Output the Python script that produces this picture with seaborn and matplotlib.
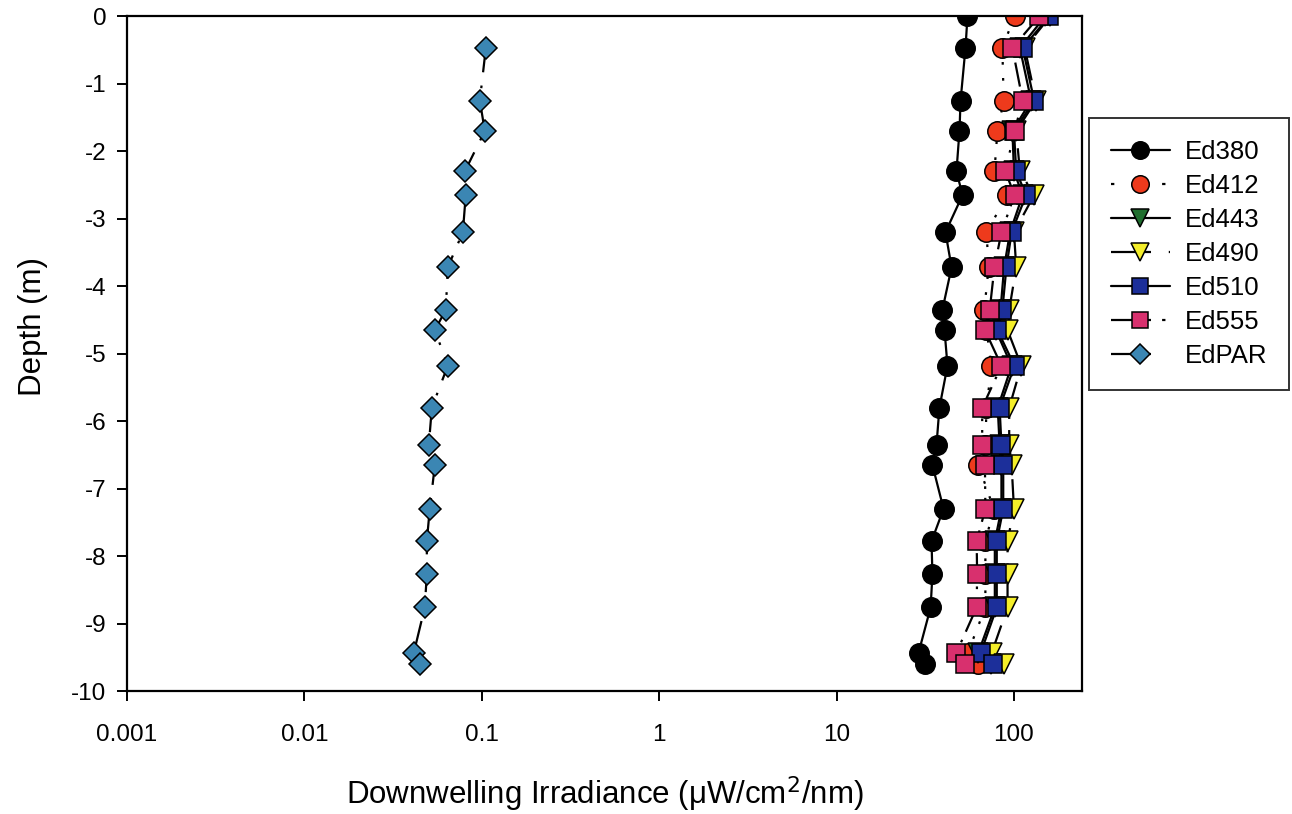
import numpy as np
import pandas as pd
import matplotlib
matplotlib.use("Agg")
import matplotlib.pyplot as plt
from matplotlib.lines import Line2D
from matplotlib.ticker import NullLocator, FixedLocator, FixedFormatter
import seaborn as sns

depth = [0, -0.47, -1.25, -1.7, -2.3, -2.65, -3.2, -3.72, -4.35, -4.65,
         -5.18, -5.8, -6.35, -6.65, -7.3, -7.78, -8.27, -8.76, -9.43, -9.6]
ed380 = [54.7, 53.3, 50.0, 49.3, 47.4, 51.3, 41.1, 44.5, 39.5, 40.6,
         42.2, 38.0, 36.6, 34.7, 40.1, 34.3, 34.7, 33.9, 29.0, 31.7]
ed412 = [100.7, 86, 87.5, 80.7, 77.6, 91.9, 70, 72, 68, 70,
         74.7, 70, 69, 63, 77, 69, 69, 69, 55, 63]
ed443 = [150, 108, 125, 98, 100, 112, 95, 88, 84, 79,
         97, 81, 83, 85, 85, 78, 78, 78, 63, 74]
ed490 = [160, 115, 133, 103, 108, 130, 100, 103, 94, 92,
         110, 94, 94, 97, 100, 92, 92, 92, 75, 88]
ed510 = [158, 112, 130, 100, 103, 117, 97, 90.7, 86, 80.7,
         100.7, 83, 85, 87, 87, 80, 80, 80, 65, 76]
ed555 = [139, 98, 112, 100.7, 89.5, 100.7, 85, 77.6, 73, 68.6,
         85, 66.2, 66.2, 68.6, 69, 61.6, 62, 61.6, 47.4, 53.3]
edpar = [np.nan, 0.1054, 0.0975, 0.104, 0.0802, 0.0812, 0.0782, 0.0643, 0.0627, 0.0544,
         0.0643, 0.0523, 0.0503, 0.0544, 0.0509, 0.049, 0.049, 0.0477, 0.0414, 0.0448]

series_names = ["Ed380", "Ed412", "Ed443", "Ed490", "Ed510", "Ed555", "EdPAR"]
series_vals = [ed380, ed412, ed443, ed490, ed510, ed555, edpar]

xticks = [0.001, 0.01, 0.1, 1, 10, 100]
xtick_labels = ["0.001", "0.01", "0.1", "1", "10", "100"]
yticks = list(range(0, -11, -1))
ytick_labels = [str(t) for t in yticks]

styles = {
    "Ed380": dict(marker="o", mfc="black", ms=14, ls="-", lls="-"),
    "Ed412": dict(marker="o", mfc="#ee3a1c", ms=14, ls=(0, (1.2, 6)), lls=(0, (1.5, 10))),
    "Ed443": dict(marker="v", mfc="#1f6e2e", ms=14, ls="-", lls="-"),
    "Ed490": dict(marker="v", mfc="#f4ee2a", ms=14, ls=(0, (11, 5, 1.2, 5)),
                  lls=(0, (18, 8, 1.5, 20))),
    "Ed510": dict(marker="s", mfc="#1c2f9a", ms=12.5, ls="-", lls="-"),
    "Ed555": dict(marker="s", mfc="#d8306e", ms=12.5, ls=(0, (11, 4, 1.2, 4, 1.2, 4)),
                  lls=(0, (18, 5, 1.5, 5, 1.5, 20))),
    "EdPAR": dict(marker="D", mfc="#3b86b3", ms=11, ls=(0, (11, 6, 1.2, 6)),
                  lls=(0, (18, 9, 1.5, 20))),
}

sns.set_style("ticks")
plt.rcParams["font.family"] = ["Liberation Sans", "DejaVu Sans"]
for k in ["text.color", "axes.labelcolor", "xtick.color", "ytick.color", "axes.edgecolor"]:
    plt.rcParams[k] = "black"

fig = plt.figure(figsize=(12.92, 8.14), dpi=100)
ax = fig.add_axes([0.0983, 0.151, 0.7392, 0.829])

handles = []
for name, vals in zip(series_names, series_vals):
    df = pd.DataFrame({"depth": depth, "irr": vals}).dropna()
    st = styles[name]
    sns.lineplot(data=df, x="irr", y="depth", sort=False, estimator=None, ax=ax,
                 color="black", linestyle=st["ls"], linewidth=1.6,
                 marker=st["marker"], markersize=st["ms"], markerfacecolor=st["mfc"],
                 markeredgecolor="black", markeredgewidth=1.1, label=name, legend=False)
    handles.append(Line2D([], [], color="black", linestyle=st["lls"], linewidth=1.6,
                          marker=st["marker"], markersize=st["ms"] * 0.9,
                          markerfacecolor=st["mfc"], markeredgecolor="black",
                          markeredgewidth=1.1))

ax.set_xscale("log")
ax.set_xlim(0.001, 242)
ax.set_ylim(-10, 0)
ax.xaxis.set_major_locator(FixedLocator(xticks))
ax.xaxis.set_major_formatter(FixedFormatter(xtick_labels))
ax.xaxis.set_minor_locator(NullLocator())
ax.set_yticks(yticks)
ax.set_yticklabels(ytick_labels)
ax.tick_params(axis="both", direction="out", length=7, width=1.4, labelsize=17.5)
ax.tick_params(axis="x", pad=17)
ax.tick_params(axis="y", pad=8)
for sp in ax.spines.values():
    sp.set_linewidth(1.6)
    sp.set_visible(True)

ax.set_xlabel("Downwelling Irradiance (\u03bcW/cm$^2$/nm)", fontsize=22.5, labelpad=20)
ax.set_ylabel("Depth (m)", fontsize=22.5)
ax.yaxis.set_label_coords(-0.083, 0.54)

leg = fig.legend(handles=handles, labels=series_names, loc="upper left",
                 bbox_to_anchor=(1089 / 1292, 1 - 118 / 814), fontsize=18.5,
                 frameon=True, fancybox=False, edgecolor="black", handlelength=2.3,
                 labelspacing=0.39, borderpad=0.85, handletextpad=0.57, borderaxespad=0)
leg.get_frame().set_linewidth(1.4)

fig.savefig("out.png", dpi=100)
